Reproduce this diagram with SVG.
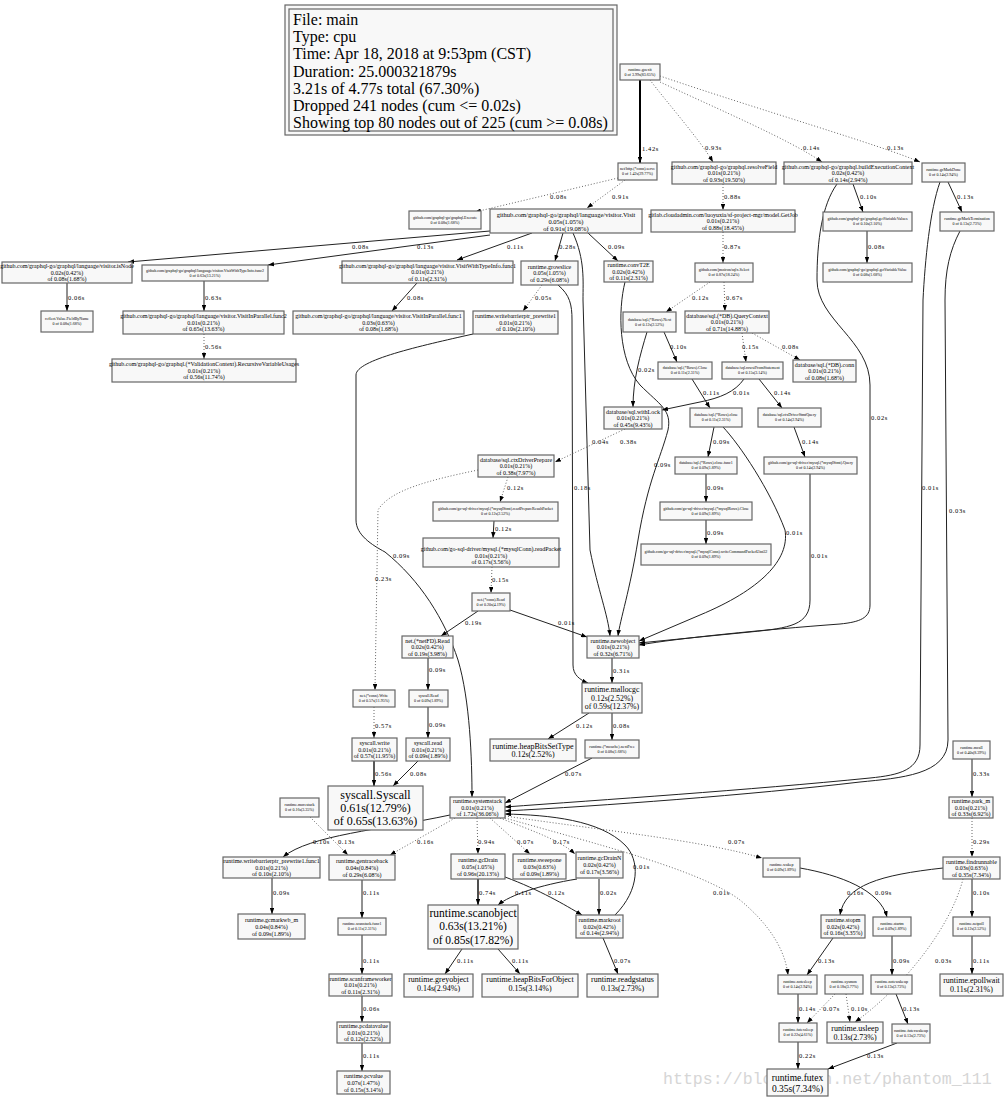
<svg xmlns="http://www.w3.org/2000/svg" width="1004" height="1097" viewBox="0 0 1004 1097">
<style>
text{font-family:"Liberation Serif","Times New Roman",serif;fill:#000}
.n rect{fill:#f8f8f8;stroke:#666;stroke-width:1.2}
.n text{text-anchor:middle}
.t text{font-size:4px}
.s text{font-size:6px}
.e path{fill:none;stroke:#222;stroke-width:1;marker-end:url(#ah)}
.e path.d{stroke:#666;stroke-dasharray:1,2}
.e text{font-size:6.5px;letter-spacing:.6px}
.wm{font-family:"Liberation Mono","DejaVu Sans Mono",monospace;font-size:16.6px;fill:#d6d6d6}
</style>
<defs>
<marker id="ah" viewBox="0 0 8 6" refX="8" refY="3" markerWidth="6" markerHeight="4.5" markerUnits="userSpaceOnUse" orient="auto"><path d="M0,0L8,3L0,6z" fill="#000"/></marker>
</defs>
<rect width="1004" height="1097" fill="#fff"/>
<text class="wm" x="663" y="1084">https://blog.csdn.net/phantom_111</text>

<g id="legend">
<rect x="285" y="5" width="332" height="130" fill="#f8f8f8" stroke="#666" stroke-width="1.2"/>
<rect x="289" y="9" width="324" height="122" fill="none" stroke="#666" stroke-width="1.2"/>
<text x="293" y="25" font-size="16">File: main</text>
<text x="293" y="42.2" font-size="16">Type: cpu</text>
<text x="293" y="59.4" font-size="16">Time: Apr 18, 2018 at 9:53pm (CST)</text>
<text x="293" y="76.6" font-size="16">Duration: 25.000321879s</text>
<text x="293" y="93.8" font-size="16">3.21s of 4.77s total (67.30%)</text>
<text x="293" y="111" font-size="16">Dropped 241 nodes (cum &lt;= 0.02s)</text>
<text x="293" y="128.2" font-size="16">Showing top 80 nodes out of 225 (cum &gt;= 0.08s)</text>
</g>

<g id="edges" class="e">
<path d="M640,80L640,163" style="stroke-width:2;stroke:#000"/><text x="642" y="151">1.42s</text>
<path class="d" d="M650,80C665,100 700,140 713,162"/><text x="705" y="150">0.93s</text>
<path class="d" d="M660,82C720,110 790,140 822,162"/><text x="803" y="150">0.14s</text>
<path class="d" d="M660,76C760,110 880,145 920,162"/><text x="887" y="150">0.13s</text>
<path class="d" d="M625,180L587,208"/><text x="612" y="199">0.91s</text>
<path class="d" d="M618,178L475,212"/><text x="550" y="199">0.08s</text>
<path d="M490,231L128,262"/><text x="352" y="249">0.08s</text>
<path d="M490,235L268,265"/><text x="417" y="249">0.13s</text>
<path d="M532,233L457,260"/><text x="507" y="249">0.11s</text>
<path d="M563,233L555,261"/><text x="559" y="249">0.28s</text>
<path d="M588,233L618,261"/><text x="608" y="249">0.09s</text>
<path d="M573,233C585,260 583,280 583,300L590,550C598,590 608,615 610,636"/><text x="592" y="444">0.04s</text>
<path d="M67,283L67,311"/><text x="68" y="300">0.06s</text>
<path d="M204,281L204,311"/><text x="205" y="300">0.63s</text>
<path class="d" d="M204,334L204,359"/><text x="205" y="349">0.56s</text>
<path d="M417,283L392,311"/><text x="407" y="300">0.08s</text>
<path class="d" d="M542,285L523,311"/><text x="535" y="300">0.05s</text>
<path d="M558,285C570,295 572,305 572,320L573,665C573,675 580,680 588,683"/><text x="574" y="490">0.18s</text>
<path d="M473,334C420,346 356,360 356,375L356,520C356,535 372,545 385,552C420,580 445,620 458,660C470,700 472,760 472,797"/><text x="393" y="558">0.09s</text>
<path d="M625,282C618,310 618,360 640,385C660,405 672,410 668,430C660,460 648,480 638,540C630,590 620,620 618,636"/><text x="654" y="467">0.09s</text>
<path class="d" d="M723,184L723,210"/><text x="724" y="199">0.88s</text>
<path class="d" d="M723,232L723,263"/><text x="724" y="249">0.87s</text>
<path d="M853,184L863,212"/><text x="860" y="199">0.10s</text>
<path d="M867,231L867,263"/><text x="868" y="249">0.08s</text>
<path d="M837,184C822,205 817,240 817,280C817,320 870,340 870,385L870,605C870,618 860,622 840,624C760,630 680,638 639,645"/><text x="871" y="420">0.02s</text>
<path d="M948,182L962,212"/><text x="957" y="199">0.13s</text>
<path d="M940,182C930,210 925,260 923,300L920,745C920,770 900,775 870,778C750,790 600,800 505,807"/><text x="922" y="490">0.01s</text>
<path d="M960,231C950,250 945,270 945,300L948,740C948,775 900,778 860,782C750,795 600,806 505,811"/><text x="949" y="513">0.03s</text>
<path class="d" d="M710,282L666,312"/><text x="692" y="300">0.12s</text>
<path class="d" d="M724,282L725,311"/><text x="726" y="300">0.67s</text>
<path d="M647,332C640,355 633,380 633,407"/><text x="638" y="372">0.02s</text>
<path d="M664,332L677,362"/><text x="670" y="349">0.10s</text>
<path class="d" d="M742,333L746,362"/><text x="742" y="349">0.15s</text>
<path class="d" d="M752,333L800,360"/><text x="782" y="349">0.08s</text>
<path d="M692,379L710,408"/><text x="703" y="395">0.11s</text>
<path d="M744,379C735,392 720,398 700,402L662,410"/><text x="733" y="395">0.01s</text>
<path d="M759,379L782,408"/><text x="774" y="395">0.14s</text>
<path class="d" d="M625,429L555,462"/><text x="620" y="444">0.38s</text>
<path d="M714,427L708,457"/><text x="713" y="444">0.09s</text>
<path d="M723,427C740,445 770,490 785,530C790,560 760,590 700,615L639,641"/><text x="786" y="535">0.01s</text>
<path d="M794,427L805,457"/><text x="802" y="444">0.14s</text>
<path d="M706,474L706,502"/><text x="707" y="490">0.09s</text>
<path d="M706,520L706,544"/><text x="707" y="535">0.09s</text>
<path d="M810,474L810,600C810,625 790,628 750,632L639,643"/><text x="811" y="558">0.01s</text>
<path class="d" d="M508,477L500,502"/><text x="507" y="490">0.12s</text>
<path class="d" d="M478,470C430,480 390,490 378,510L375,690"/><text x="375" y="581">0.23s</text>
<path d="M494,521L493,538"/><text x="495" y="531">0.12s</text>
<path class="d" d="M492,567L491,593"/><text x="492" y="582">0.15s</text>
<path d="M478,611L441,636"/><text x="465" y="625">0.19s</text>
<path d="M510,610L587,637"/><text x="558" y="625">0.01s</text>
<path d="M428,658L428,690"/><text x="429" y="672">0.09s</text>
<path d="M428,707L428,738"/><text x="429" y="727">0.09s</text>
<path class="d" d="M374,707L374,738"/><text x="375" y="728">0.57s</text>
<path d="M374,761L374,786" style="stroke-width:1.5"/><text x="375" y="776">0.56s</text>
<path d="M418,761L393,786"/><text x="410" y="776">0.08s</text>
<path d="M612,658L612,683"/><text x="613" y="673">0.31s</text>
<path d="M589,713L548,739"/><text x="576" y="728">0.12s</text>
<path d="M612,713L612,740"/><text x="613" y="728">0.08s</text>
<path d="M592,758L505,803"/><text x="565" y="776">0.07s</text>
<path d="M972,759L972,797"/><text x="973" y="776">0.33s</text>
<path class="d" d="M972,818L972,857"/><text x="973" y="844">0.29s</text>
<path d="M450,815C380,830 310,835 283,857"/><text x="313" y="844">0.10s</text>
<path class="d" d="M310,817L348,855"/><text x="338" y="844">0.13s</text>
<path class="d" d="M455,818L390,855"/><text x="417" y="844">0.16s</text>
<path class="d" d="M477,818L478,854"/><text x="478" y="844">0.94s</text>
<path class="d" d="M490,818L530,854"/><text x="517" y="844">0.07s</text>
<path class="d" d="M500,818C530,830 560,840 575,854"/><text x="553" y="844">0.17s</text>
<path d="M615,915C640,890 640,860 625,845C600,820 550,815 505,814"/><text x="633" y="869">0.01s</text>
<path class="d" d="M505,816C600,830 700,840 762,858"/><text x="728" y="844">0.07s</text>
<path class="d" d="M505,818C600,845 700,870 740,900C770,925 785,950 788,975"/><text x="713" y="895">0.01s</text>
<path d="M272,878L272,914"/><text x="273" y="895">0.09s</text>
<path d="M362,880L362,918"/><text x="363" y="895">0.11s</text>
<path d="M362,935L362,974"/><text x="363" y="963">0.11s</text>
<path d="M362,996L362,1022"/><text x="363" y="1011">0.06s</text>
<path d="M362,1043L362,1071"/><text x="363" y="1058">0.11s</text>
<path d="M478,879L478,905" style="stroke-width:1.6"/><text x="479" y="895">0.74s</text>
<path d="M505,877C540,890 565,905 582,915"/><text x="548" y="895">0.12s</text>
<path d="M577,879C540,885 510,895 498,905"/><text x="515" y="895">0.11s</text>
<path d="M599,879L599,915"/><text x="600" y="895">0.02s</text>
<path d="M462,949L445,974"/><text x="457" y="963">0.11s</text>
<path d="M498,949L520,974"/><text x="512" y="963">0.11s</text>
<path d="M603,938L618,974"/><text x="614" y="963">0.07s</text>
<path d="M943,868C880,875 845,885 840,915"/><text x="847" y="895">0.16s</text>
<path d="M800,868C840,875 880,890 887,917"/><text x="875" y="895">0.09s</text>
<path d="M972,879L972,917"/><text x="973" y="895">0.10s</text>
<path class="d" d="M963,879C950,930 900,990 855,1022"/><text x="935" y="963">0.03s</text>
<path d="M833,938L807,975"/><text x="818" y="963">0.13s</text>
<path d="M892,936L892,975"/><text x="893" y="963">0.09s</text>
<path d="M972,936L972,974"/><text x="973" y="963">0.11s</text>
<path d="M798,994L798,1023"/><text x="799" y="1011">0.14s</text>
<path class="d" d="M835,994L807,1023"/><text x="823" y="1011">0.07s</text>
<path class="d" d="M846,994L850,1022"/><text x="851" y="1011">0.10s</text>
<path d="M896,994L908,1024"/><text x="903" y="1011">0.13s</text>
<path d="M798,1042L798,1069"/><text x="799" y="1058">0.22s</text>
<path d="M897,1043L828,1069"/><text x="867" y="1058">0.13s</text>
</g>

<g id="goexit" class="n t"><rect x="620" y="64" width="40" height="16"/><text x="640" y="70.7">runtime.goexit<tspan x="640" dy="5">0 of 3.99s(83.65%)</tspan></text></g>
<g id="connserve" class="n t"><rect x="618" y="163" width="39" height="17"/><text x="637.5" y="170.2">net/http.(*conn).serve<tspan x="637.5" dy="5">0 of 1.42s(29.77%)</tspan></text></g>
<g id="execute" class="n t"><rect x="409" y="211" width="72" height="18"/><text x="445" y="218.7">github.com/graphql-go/graphql.Execute<tspan x="445" dy="5">0 of 0.08s(1.68%)</tspan></text></g>
<g id="visit" class="n s"><rect x="490" y="209" width="152" height="24"/><text x="566" y="216.5" style="font-size:6.5px">github.com/graphql-go/graphql/language/visitor.Visit<tspan x="566" dy="7">0.05s(1.05%)</tspan><tspan x="566" dy="7">of 0.91s(19.08%)</tspan></text></g>
<g id="resolvefield" class="n s"><rect x="672" y="162" width="104" height="22"/><text x="724" y="168.5">github.com/graphql-go/graphql.resolveField<tspan x="724" dy="6.5">0.01s(0.21%)</tspan><tspan x="724" dy="6.5">of 0.93s(19.50%)</tspan></text></g>
<g id="getjob" class="n s"><rect x="651" y="210" width="144" height="22"/><text x="723" y="216.5">gitlab.cloudadmin.com/luoyuxia/sf-project-mgr/model.GetJob<tspan x="723" dy="6.5">0.01s(0.21%)</tspan><tspan x="723" dy="6.5">of 0.88s(18.45%)</tspan></text></g>
<g id="buildexec" class="n s"><rect x="784" y="162" width="128" height="22"/><text x="848" y="168.5">github.com/graphql-go/graphql.buildExecutionContext<tspan x="848" dy="6.5">0.02s(0.42%)</tspan><tspan x="848" dy="6.5">of 0.14s(2.94%)</tspan></text></g>
<g id="gcmarkdone" class="n t"><rect x="922" y="163" width="43" height="19"/><text x="943.5" y="171.2">runtime.gcMarkDone<tspan x="943.5" dy="5">0 of 0.14s(2.94%)</tspan></text></g>
<g id="getvarvalues" class="n t"><rect x="823" y="212" width="89" height="19"/><text x="867.5" y="220.2">github.com/graphql-go/graphql.getVariableValues<tspan x="867.5" dy="5">0 of 0.10s(2.10%)</tspan></text></g>
<g id="gcmarkterm" class="n t"><rect x="940" y="212" width="54" height="19"/><text x="967" y="220.2">runtime.gcMarkTermination<tspan x="967" dy="5">0 of 0.13s(2.73%)</tspan></text></g>
<g id="getvarvalue" class="n t"><rect x="823" y="263" width="89" height="19"/><text x="867.5" y="271.2">github.com/graphql-go/graphql.getVariableValue<tspan x="867.5" dy="5">0 of 0.08s(1.68%)</tspan></text></g>
<g id="sqlxselect" class="n t"><rect x="695" y="263" width="58" height="19"/><text x="724" y="271.2">github.com/jmoiron/sqlx.Select<tspan x="724" dy="5">0 of 0.87s(18.24%)</tspan></text></g>
<g id="isnode" class="n s"><rect x="2" y="262" width="130" height="21"/><text x="67" y="268">github.com/graphql-go/graphql/language/visitor.isNode<tspan x="67" dy="6.5">0.02s(0.42%)</tspan><tspan x="67" dy="6.5">of 0.08s(1.68%)</tspan></text></g>
<g id="vwtifunc2" class="n t"><rect x="142" y="265" width="126" height="16"/><text x="205" y="271.7">github.com/graphql-go/graphql/language/visitor.VisitWithTypeInfo.func2<tspan x="205" dy="5">0 of 0.63s(13.21%)</tspan></text></g>
<g id="vwtifunc1" class="n s"><rect x="342" y="261" width="171" height="22"/><text x="427.5" y="267.5">github.com/graphql-go/graphql/language/visitor.VisitWithTypeInfo.func1<tspan x="427.5" dy="6.5">0.01s(0.21%)</tspan><tspan x="427.5" dy="6.5">of 0.11s(2.31%)</tspan></text></g>
<g id="growslice" class="n s"><rect x="521" y="261" width="57" height="24"/><text x="549.5" y="268.5">runtime.growslice<tspan x="549.5" dy="6.8">0.05s(1.05%)</tspan><tspan x="549.5" dy="6.8">of 0.29s(6.08%)</tspan></text></g>
<g id="convt2e" class="n s"><rect x="604" y="261" width="49" height="21"/><text x="628.5" y="267">runtime.convT2E<tspan x="628.5" dy="6.5">0.02s(0.42%)</tspan><tspan x="628.5" dy="6.5">of 0.11s(2.31%)</tspan></text></g>
<g id="fieldbyname" class="n t"><rect x="41" y="311" width="52" height="21"/><text x="67" y="320.2">reflect.Value.FieldByName<tspan x="67" dy="5">0 of 0.08s(1.68%)</tspan></text></g>
<g id="vipfunc2" class="n s"><rect x="123" y="311" width="161" height="23"/><text x="203.5" y="318">github.com/graphql-go/graphql/language/visitor.VisitInParallel.func2<tspan x="203.5" dy="6.5">0.01s(0.21%)</tspan><tspan x="203.5" dy="6.5">of 0.65s(13.63%)</tspan></text></g>
<g id="vipfunc1" class="n s"><rect x="293" y="311" width="171" height="23"/><text x="378.5" y="318">github.com/graphql-go/graphql/language/visitor.VisitInParallel.func1<tspan x="378.5" dy="6.5">0.03s(0.63%)</tspan><tspan x="378.5" dy="6.5">of 0.08s(1.68%)</tspan></text></g>
<g id="wbprewrite1" class="n s"><rect x="473" y="311" width="85" height="23"/><text x="515.5" y="318">runtime.writebarrierptr_prewrite1<tspan x="515.5" dy="6.5">0.01s(0.21%)</tspan><tspan x="515.5" dy="6.5">of 0.10s(2.10%)</tspan></text></g>
<g id="rowsnext" class="n t"><rect x="623" y="312" width="53" height="20"/><text x="649.5" y="320.7">database/sql.(*Rows).Next<tspan x="649.5" dy="5">0 of 0.12s(2.52%)</tspan></text></g>
<g id="querycontext" class="n s"><rect x="685" y="311" width="84" height="22"/><text x="727" y="317.5">database/sql.(*DB).QueryContext<tspan x="727" dy="6.5">0.01s(0.21%)</tspan><tspan x="727" dy="6.5">of 0.71s(14.88%)</tspan></text></g>
<g id="recvarusages" class="n s"><rect x="112" y="359" width="184" height="23"/><text x="204" y="366">github.com/graphql-go/graphql.(*ValidationContext).RecursiveVariableUsages<tspan x="204" dy="6.5">0.01s(0.21%)</tspan><tspan x="204" dy="6.5">of 0.56s(11.74%)</tspan></text></g>
<g id="rowsclose" class="n t"><rect x="658" y="362" width="54" height="17"/><text x="685" y="369.2">database/sql.(*Rows).Close<tspan x="685" dy="5">0 of 0.11s(2.31%)</tspan></text></g>
<g id="rowsifromstmt" class="n t"><rect x="722" y="362" width="61" height="17"/><text x="752.5" y="369.2">database/sql.rowsiFromStatement<tspan x="752.5" dy="5">0 of 0.15s(3.14%)</tspan></text></g>
<g id="dbconn" class="n s"><rect x="793" y="360" width="63" height="22"/><text x="824.5" y="366.5">database/sql.(*DB).conn<tspan x="824.5" dy="6.5">0.01s(0.21%)</tspan><tspan x="824.5" dy="6.5">of 0.08s(1.68%)</tspan></text></g>
<g id="withlock" class="n s"><rect x="604" y="407" width="58" height="22"/><text x="633" y="413.5">database/sql.withLock<tspan x="633" dy="6.5">0.01s(0.21%)</tspan><tspan x="633" dy="6.5">of 0.45s(9.43%)</tspan></text></g>
<g id="rowsclose2" class="n t"><rect x="690" y="408" width="52" height="19"/><text x="716" y="416.2">database/sql.(*Rows).close<tspan x="716" dy="5">0 of 0.11s(2.31%)</tspan></text></g>
<g id="ctxstmtquery" class="n t"><rect x="758" y="408" width="63" height="19"/><text x="789.5" y="416.2">database/sql.ctxDriverStmtQuery<tspan x="789.5" dy="5">0 of 0.14s(2.94%)</tspan></text></g>
<g id="ctxprepare" class="n s"><rect x="478" y="455" width="76" height="22"/><text x="516" y="461.5">database/sql.ctxDriverPrepare<tspan x="516" dy="6.5">0.01s(0.21%)</tspan><tspan x="516" dy="6.5">of 0.38s(7.97%)</tspan></text></g>
<g id="rowsclosefunc1" class="n t"><rect x="675" y="457" width="62" height="17"/><text x="706" y="464.2">database/sql.(*Rows).close.func1<tspan x="706" dy="5">0 of 0.09s(1.89%)</tspan></text></g>
<g id="mysqlstmtquery" class="n t"><rect x="764" y="457" width="93" height="17"/><text x="810.5" y="464.2">github.com/go-sql-driver/mysql.(*mysqlStmt).Query<tspan x="810.5" dy="5">0 of 0.14s(2.94%)</tspan></text></g>
<g id="readprepare" class="n t"><rect x="433" y="502" width="125" height="19"/><text x="495.5" y="510.2">github.com/go-sql-driver/mysql.(*mysqlStmt).readPrepareResultPacket<tspan x="495.5" dy="5">0 of 0.12s(2.52%)</tspan></text></g>
<g id="mysqlrowsclose" class="n t"><rect x="660" y="502" width="92" height="18"/><text x="706" y="509.7">github.com/go-sql-driver/mysql.(*mysqlRows).Close<tspan x="706" dy="5">0 of 0.09s(1.89%)</tspan></text></g>
<g id="writecmd" class="n t"><rect x="641" y="544" width="130" height="21"/><text x="706" y="553.2">github.com/go-sql-driver/mysql.(*mysqlConn).writeCommandPacketUint32<tspan x="706" dy="5">0 of 0.09s(1.89%)</tspan></text></g>
<g id="readpacket" class="n s"><rect x="423" y="538" width="136" height="29"/><text x="491" y="551">github.com/go-sql-driver/mysql.(*mysqlConn).readPacket<tspan x="491" dy="6.5">0.01s(0.21%)</tspan><tspan x="491" dy="6.5">of 0.17s(3.56%)</tspan></text></g>
<g id="connread" class="n t"><rect x="472" y="593" width="38" height="18"/><text x="491" y="600.7">net.(*conn).Read<tspan x="491" dy="5">0 of 0.20s(4.19%)</tspan></text></g>
<g id="netfdread" class="n s"><rect x="402" y="636" width="51" height="22"/><text x="427.5" y="642.5">net.(*netFD).Read<tspan x="427.5" dy="6.5">0.02s(0.42%)</tspan><tspan x="427.5" dy="6.5">of 0.19s(3.98%)</tspan></text></g>
<g id="newobject" class="n s"><rect x="587" y="636" width="52" height="22"/><text x="613" y="642.5">runtime.newobject<tspan x="613" dy="6.5">0.01s(0.21%)</tspan><tspan x="613" dy="6.5">of 0.32s(6.71%)</tspan></text></g>
<g id="mallocgc" class="n"><rect x="582" y="683" width="60" height="30"/><text x="612" y="692" font-size="7.8">runtime.mallocgc<tspan x="612" dy="8.5">0.12s(2.52%)</tspan><tspan x="612" dy="8.5">of 0.59s(12.37%)</tspan></text></g>
<g id="connwrite" class="n t"><rect x="353" y="690" width="42" height="17"/><text x="374" y="697.2">net.(*conn).Write<tspan x="374" dy="5">0 of 0.57s(11.95%)</tspan></text></g>
<g id="syscallRead" class="n t"><rect x="409" y="690" width="39" height="17"/><text x="428.5" y="697.2">syscall.Read<tspan x="428.5" dy="5">0 of 0.09s(1.89%)</tspan></text></g>
<g id="syscallwrite" class="n s"><rect x="352" y="738" width="45" height="23"/><text x="374.5" y="745">syscall.write<tspan x="374.5" dy="6.5">0.01s(0.21%)</tspan><tspan x="374.5" dy="6.5">of 0.57s(11.95%)</tspan></text></g>
<g id="syscallread" class="n s"><rect x="406" y="738" width="44" height="23"/><text x="428" y="745">syscall.read<tspan x="428" dy="6.5">0.01s(0.21%)</tspan><tspan x="428" dy="6.5">of 0.09s(1.89%)</tspan></text></g>
<g id="heapbitssettype" class="n"><rect x="490" y="739" width="86" height="22"/><text x="533" y="748.5" font-size="8">runtime.heapBitsSetType<tspan x="533" dy="8.5">0.12s(2.52%)</tspan></text></g>
<g id="nextfree" class="n t"><rect x="585" y="740" width="54" height="18"/><text x="612" y="747.7">runtime.(*mcache).nextFree<tspan x="612" dy="5">0 of 0.08s(1.68%)</tspan></text></g>
<g id="mcall" class="n t"><rect x="953" y="741" width="37" height="18"/><text x="971.5" y="748.7">runtime.mcall<tspan x="971.5" dy="5">0 of 0.40s(8.39%)</tspan></text></g>
<g id="syscall" class="n"><rect x="328" y="786" width="95" height="44"/><text x="375.5" y="798.5" font-size="12">syscall.Syscall<tspan x="375.5" dy="13.4">0.61s(12.79%)</tspan><tspan x="375.5" dy="13.4">of 0.65s(13.63%)</tspan></text></g>
<g id="morestack" class="n t"><rect x="280" y="798" width="39" height="19"/><text x="299.5" y="806.2">runtime.morestack<tspan x="299.5" dy="5">0 of 0.16s(3.35%)</tspan></text></g>
<g id="systemstack" class="n s"><rect x="450" y="797" width="55" height="21"/><text x="477.5" y="803">runtime.systemstack<tspan x="477.5" dy="6.5">0.01s(0.21%)</tspan><tspan x="477.5" dy="6.5">of 1.72s(36.06%)</tspan></text></g>
<g id="parkm" class="n s"><rect x="949" y="797" width="44" height="21"/><text x="971" y="803">runtime.park_m<tspan x="971" dy="6.5">0.01s(0.21%)</tspan><tspan x="971" dy="6.5">of 0.33s(6.92%)</tspan></text></g>
<g id="wbfunc1" class="n s"><rect x="223" y="857" width="97" height="21"/><text x="271.5" y="863">runtime.writebarrierptr_prewrite1.func1<tspan x="271.5" dy="6.5">0.01s(0.21%)</tspan><tspan x="271.5" dy="6.5">of 0.10s(2.10%)</tspan></text></g>
<g id="gentraceback" class="n s"><rect x="329" y="855" width="66" height="25"/><text x="362" y="862.5">runtime.gentraceback<tspan x="362" dy="7">0.04s(0.84%)</tspan><tspan x="362" dy="7">of 0.29s(6.08%)</tspan></text></g>
<g id="gcdrain" class="n s"><rect x="451" y="854" width="54" height="25"/><text x="478" y="861.5">runtime.gcDrain<tspan x="478" dy="7">0.05s(1.05%)</tspan><tspan x="478" dy="7">of 0.96s(20.13%)</tspan></text></g>
<g id="sweepone" class="n s"><rect x="513" y="854" width="53" height="25"/><text x="539.5" y="861.5">runtime.sweepone<tspan x="539.5" dy="7">0.03s(0.63%)</tspan><tspan x="539.5" dy="7">of 0.09s(1.89%)</tspan></text></g>
<g id="gcdrainn" class="n s"><rect x="576" y="852" width="47" height="26"/><text x="599.5" y="860">runtime.gcDrainN<tspan x="599.5" dy="7">0.02s(0.42%)</tspan><tspan x="599.5" dy="7">of 0.17s(3.56%)</tspan></text></g>
<g id="wakep" class="n t"><rect x="763" y="858" width="37" height="19"/><text x="781.5" y="866.2">runtime.wakep<tspan x="781.5" dy="5">0 of 0.09s(1.89%)</tspan></text></g>
<g id="findrunnable" class="n s"><rect x="943" y="857" width="57" height="22"/><text x="971.5" y="863.5">runtime.findrunnable<tspan x="971.5" dy="6.5">0.03s(0.63%)</tspan><tspan x="971.5" dy="6.5">of 0.35s(7.34%)</tspan></text></g>
<g id="scanobject" class="n"><rect x="428" y="905" width="90" height="44"/><text x="473" y="917" font-size="11.5">runtime.scanobject<tspan x="473" dy="13.4">0.63s(13.21%)</tspan><tspan x="473" dy="13.4">of 0.85s(17.82%)</tspan></text></g>
<g id="markroot" class="n s"><rect x="576" y="915" width="47" height="23"/><text x="599.5" y="922">runtime.markroot<tspan x="599.5" dy="6.5">0.02s(0.42%)</tspan><tspan x="599.5" dy="6.5">of 0.14s(2.94%)</tspan></text></g>
<g id="stopm" class="n s"><rect x="821" y="915" width="44" height="23"/><text x="843" y="922">runtime.stopm<tspan x="843" dy="6.5">0.02s(0.42%)</tspan><tspan x="843" dy="6.5">of 0.16s(3.35%)</tspan></text></g>
<g id="startm" class="n t"><rect x="873" y="917" width="38" height="19"/><text x="892" y="925.2">runtime.startm<tspan x="892" dy="5">0 of 0.09s(1.89%)</tspan></text></g>
<g id="netpoll" class="n t"><rect x="953" y="917" width="37" height="19"/><text x="971.5" y="925.2">runtime.netpoll<tspan x="971.5" dy="5">0 of 0.12s(2.52%)</tspan></text></g>
<g id="gcmarkwbm" class="n s"><rect x="238" y="914" width="67" height="25"/><text x="271.5" y="921.5">runtime.gcmarkwb_m<tspan x="271.5" dy="7">0.04s(0.84%)</tspan><tspan x="271.5" dy="7">of 0.09s(1.89%)</tspan></text></g>
<g id="scanstackfunc1" class="n t"><rect x="338" y="918" width="48" height="17"/><text x="362" y="925.2">runtime.scanstack.func1<tspan x="362" dy="5">0 of 0.11s(2.31%)</tspan></text></g>
<g id="scanframeworker" class="n s"><rect x="329" y="974" width="63" height="22"/><text x="360.5" y="980.5">runtime.scanframeworker<tspan x="360.5" dy="6.5">0.01s(0.21%)</tspan><tspan x="360.5" dy="6.5">of 0.11s(2.31%)</tspan></text></g>
<g id="greyobject" class="n"><rect x="404" y="974" width="69" height="23"/><text x="438.5" y="982" font-size="8">runtime.greyobject<tspan x="438.5" dy="9">0.14s(2.94%)</tspan></text></g>
<g id="heapbitsforobject" class="n"><rect x="482" y="974" width="96" height="23"/><text x="530" y="982" font-size="8">runtime.heapBitsForObject<tspan x="530" dy="9">0.15s(3.14%)</tspan></text></g>
<g id="readgstatus" class="n"><rect x="587" y="974" width="71" height="23"/><text x="622.5" y="982" font-size="8">runtime.readgstatus<tspan x="622.5" dy="9">0.13s(2.73%)</tspan></text></g>
<g id="notesleep" class="n t"><rect x="778" y="975" width="39" height="19"/><text x="797.5" y="983.2">runtime.notesleep<tspan x="797.5" dy="5">0 of 0.14s(2.94%)</tspan></text></g>
<g id="sysmon" class="n t"><rect x="825" y="975" width="38" height="19"/><text x="844" y="983.2">runtime.sysmon<tspan x="844" dy="5">0 of 0.18s(3.77%)</tspan></text></g>
<g id="notewakeup" class="n t"><rect x="871" y="975" width="41" height="19"/><text x="891.5" y="983.2">runtime.notewakeup<tspan x="891.5" dy="5">0 of 0.13s(2.73%)</tspan></text></g>
<g id="epollwait" class="n"><rect x="940" y="974" width="63" height="22"/><text x="971.5" y="982.5" font-size="8">runtime.epollwait<tspan x="971.5" dy="9">0.11s(2.31%)</tspan></text></g>
<g id="pcdatavalue" class="n s"><rect x="337" y="1022" width="53" height="21"/><text x="363.5" y="1028">runtime.pcdatavalue<tspan x="363.5" dy="6.5">0.01s(0.21%)</tspan><tspan x="363.5" dy="6.5">of 0.12s(2.52%)</tspan></text></g>
<g id="futexsleep" class="n t"><rect x="779" y="1023" width="38" height="19"/><text x="798" y="1031.2">runtime.futexsleep<tspan x="798" dy="5">0 of 0.22s(4.61%)</tspan></text></g>
<g id="usleep" class="n"><rect x="827" y="1022" width="56" height="21"/><text x="855" y="1031" font-size="8">runtime.usleep<tspan x="855" dy="9">0.13s(2.73%)</tspan></text></g>
<g id="futexwakeup" class="n t"><rect x="892" y="1024" width="38" height="19"/><text x="911" y="1032.2">runtime.futexwakeup<tspan x="911" dy="5">0 of 0.13s(2.73%)</tspan></text></g>
<g id="pcvalue" class="n s"><rect x="337" y="1071" width="53" height="23"/><text x="363.5" y="1078">runtime.pcvalue<tspan x="363.5" dy="6.8">0.07s(1.47%)</tspan><tspan x="363.5" dy="6.8">of 0.15s(3.14%)</tspan></text></g>
<g id="futex" class="n"><rect x="767" y="1069" width="61" height="27"/><text x="797.5" y="1080.5" font-size="9.5">runtime.futex<tspan x="797.5" dy="11">0.35s(7.34%)</tspan></text></g>
</svg>
